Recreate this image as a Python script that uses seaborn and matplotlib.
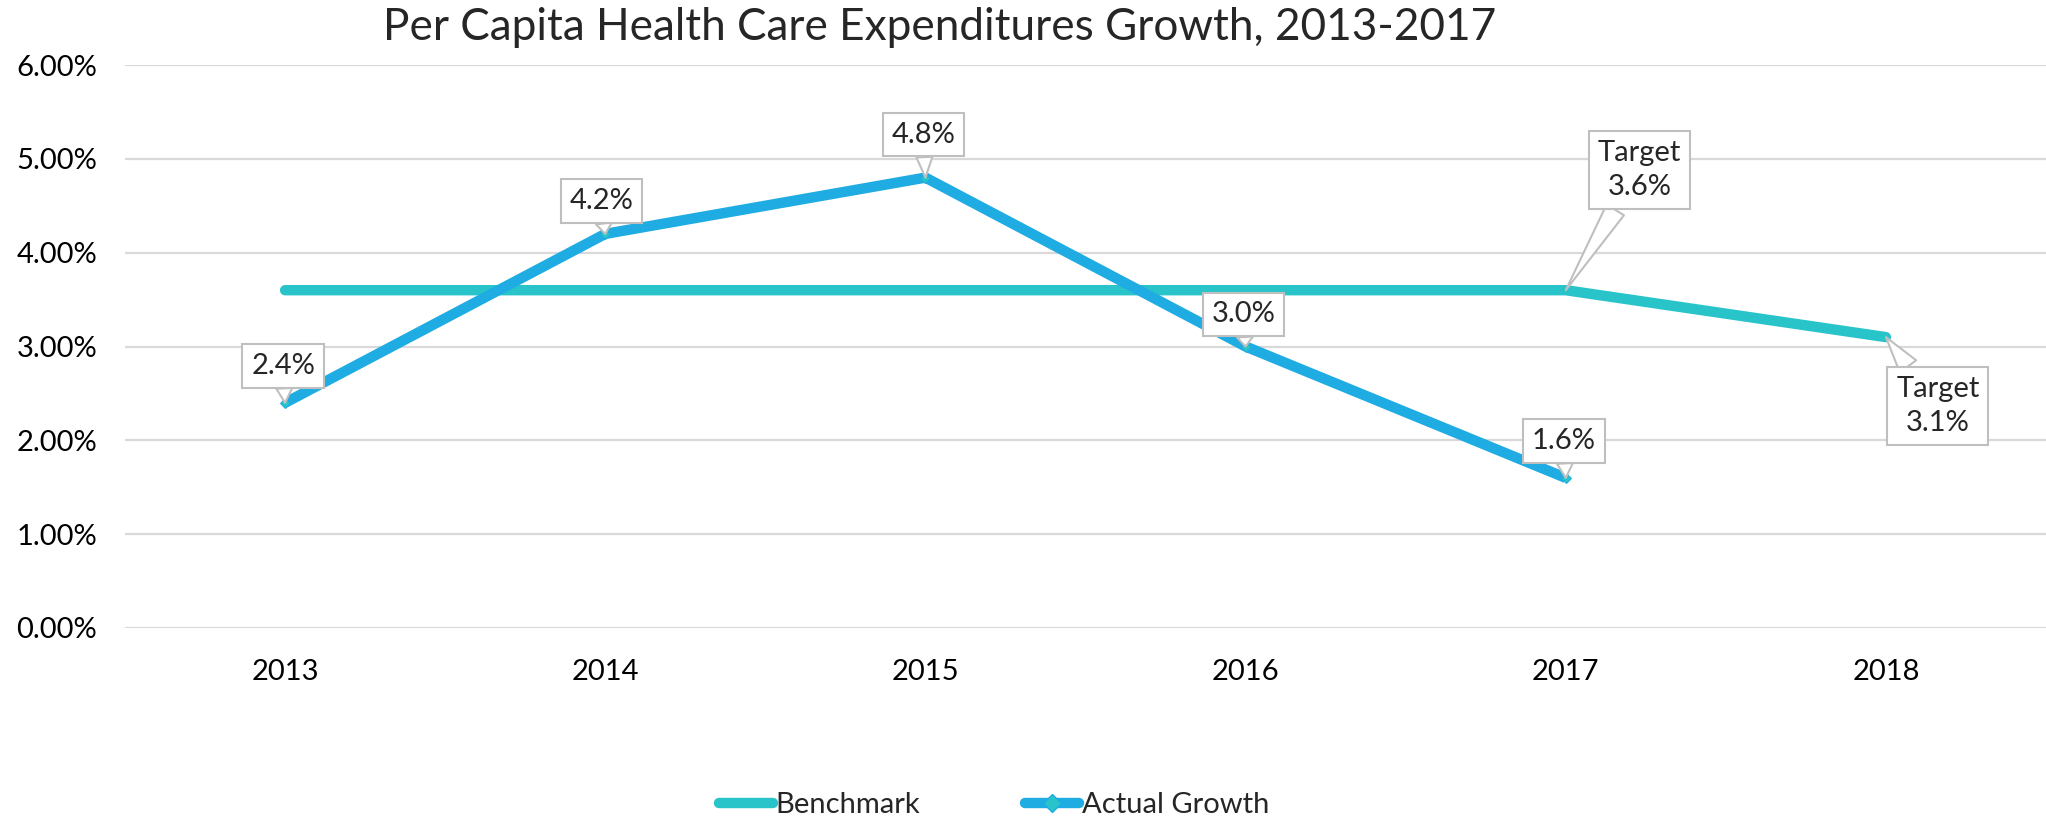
import matplotlib
matplotlib.use("Agg")
import matplotlib.pyplot as plt
from matplotlib.lines import Line2D
import seaborn as sns
import pandas as pd

# ---- data ----
years = [2013, 2014, 2015, 2016, 2017, 2018]
benchmark = [3.6, 3.6, 3.6, 3.6, 3.6, 3.1]
actual_years = [2013, 2014, 2015, 2016, 2017]
actual = [2.4, 4.2, 4.8, 3.0, 1.6]
actual_labels = ["2.4%", "4.2%", "4.8%", "3.0%", "1.6%"]
target_years = [2017, 2018]
target_values = [3.6, 3.1]
target_labels = ["Target\n3.6%", "Target\n3.1%"]
y_ticks = [0, 1, 2, 3, 4, 5, 6]
y_tick_labels = ["0.00%", "1.00%", "2.00%", "3.00%", "4.00%", "5.00%", "6.00%"]
x_tick_labels = ["2013", "2014", "2015", "2016", "2017", "2018"]
title = "Per Capita Health Care Expenditures Growth, 2013-2017"
series_names = ["Benchmark", "Actual Growth"]

# ---- styles ----
C_BENCH = "#29C4CA"
C_ACT = "#1FACE2"
GRID = "#D9D9D9"
BOX_EC = "#BFBFBF"
FS = 21

sns.set_theme(style="white")
plt.rcParams['font.family'] = ['Lato', 'DejaVu Sans']

W, H = 2046, 819
fig = plt.figure(figsize=(W / 100, H / 100), dpi=100)
ax = fig.add_axes([125 / W, 191 / H, 1 - 125 / W, 563 / H])

df_b = pd.DataFrame({"year": years, "value": benchmark})
df_a = pd.DataFrame({"year": actual_years, "value": actual})

sns.lineplot(data=df_b, x="year", y="value", ax=ax, color=C_BENCH, linewidth=7.5,
             solid_capstyle="round", solid_joinstyle="round", zorder=3)
sns.lineplot(data=df_a, x="year", y="value", ax=ax, color=C_ACT, linewidth=7.5,
             marker="D", markersize=5, markerfacecolor=C_BENCH, markeredgecolor=C_ACT,
             solid_capstyle="butt", zorder=4)

ax.set_xlim(years[0] - 0.5, years[-1] + 0.5)
ax.set_ylim(y_ticks[0], y_ticks[-1])
ax.set_xticks(years)
ax.set_xticklabels(x_tick_labels)
ax.set_yticks(y_ticks)
ax.set_yticklabels(y_tick_labels)
ax.set_xlabel("")
ax.set_ylabel("")
ax.yaxis.grid(True, color=GRID, linewidth=1.6)
ax.xaxis.grid(False)
for s in ax.spines.values():
    s.set_visible(False)
ax.tick_params(axis="y", length=0, pad=20, labelsize=FS, labelcolor="black")
ax.tick_params(axis="x", length=0, pad=22, labelsize=FS, labelcolor="black")

bbox = dict(boxstyle="square,pad=0.3", fc="white", ec=BOX_EC, lw=1.5)
arrow = dict(arrowstyle="wedge,tail_width=0.55,shrink_factor=0.5", fc="white",
             ec=BOX_EC, lw=1.5, shrinkA=0, shrinkB=0)

act_offsets = [(-2, 37), (-4, 33), (-2, 43), (-2, 32), (-2, 37)]
for x, y, lab, off in zip(actual_years, actual, actual_labels, act_offsets):
    ax.annotate(lab, xy=(x, y), xytext=off, textcoords="offset pixels",
                ha="center", va="center", fontsize=FS, bbox=bbox,
                arrowprops=arrow, zorder=6)

tgt_offsets = [(74, 120), (52, -69)]
for x, y, lab, off in zip(target_years, target_values, target_labels, tgt_offsets):
    ax.annotate(lab, xy=(x, y), xytext=off, textcoords="offset pixels",
                ha="center", va="center", fontsize=FS, bbox=bbox,
                arrowprops=dict(arrow, arrowstyle="wedge,tail_width=0.7,shrink_factor=0.5"),
                linespacing=1.4, zorder=6)

fig.text(940 / W, 1 - 27 / H, title, ha="center", va="center", fontsize=31.8)

handles = [
    Line2D([], [], color=C_BENCH, lw=7.5, solid_capstyle="round"),
    Line2D([], [], color=C_ACT, lw=7.5, solid_capstyle="round", marker="D",
           markersize=9, markerfacecolor=C_BENCH, markeredgecolor=C_ACT),
]
fig.legend(handles, series_names, loc="center", bbox_to_anchor=(994 / W, 14 / H),
           ncol=2, frameon=False, fontsize=FS, handlelength=1.85, handletextpad=0.1,
           columnspacing=3.6, borderaxespad=0, borderpad=0)

fig.savefig("out.png", dpi=100)
